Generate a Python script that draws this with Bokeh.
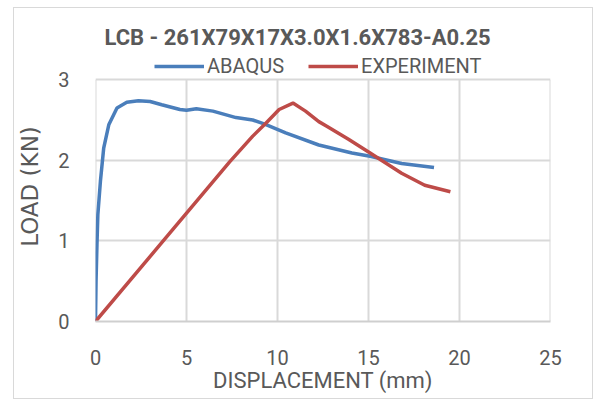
from bokeh.plotting import figure
from bokeh.models import Legend, LegendItem, FixedTicker
from bokeh.embed import file_html
from bokeh.resources import INLINE

# ---- data ----
abaqus_x = [0, 0.03, 0.08, 0.13, 0.27, 0.45, 0.73, 1.18, 1.72, 2.36, 3.0, 3.64,
            4.64, 5.0, 5.54, 6.45, 7.72, 8.64, 9.3, 10.45, 12.27, 14.09, 15.09,
            16.82, 18.6]
abaqus_y = [0, 0.5, 0.95, 1.33, 1.74, 2.15, 2.44, 2.65, 2.72, 2.74, 2.73, 2.69,
            2.63, 2.62, 2.64, 2.61, 2.53, 2.50, 2.45, 2.34, 2.19, 2.09, 2.05,
            1.96, 1.91]
exp_x = [0, 3.72, 7.37, 8.64, 9.36, 10.09, 10.85, 11.54, 12.27, 12.73, 13.9,
         15.09, 16.82, 18.09, 19.5]
exp_y = [0, 1.0, 1.98, 2.30, 2.46, 2.63, 2.71, 2.61, 2.48, 2.42, 2.26, 2.09,
         1.84, 1.69, 1.61]
x_ticks = [0, 5, 10, 15, 20, 25]
y_ticks = [0, 1, 2, 3]

TITLE = "LCB - 261X79X17X3.0X1.6X783-A0.25"
TEXT = "#595959"
GRID = "#d9d9d9"
FONT = "Roboto"

# headroom above the last tick holds the legend (as in the reference)
p = figure(width=580, height=392, x_range=(0, 25), y_range=(0, 3.35),
           output_backend="svg", toolbar_location=None,
           min_border_left=77, min_border_right=44,
           min_border_top=43, min_border_bottom=79)
p.margin = (7, 0, 0, 13)
p.styles = {"border": "1px solid #d9d9d9"}
p.outline_line_color = None
p.background_fill_color = "white"
p.border_fill_color = "white"

p.title.text = TITLE
p.title.align = "left"
p.title.offset = 9
p.title.standoff = 3
p.title.text_font = FONT
p.title.text_font_size = "22px"
p.title.text_font_style = "bold"
p.title.text_color = TEXT

# vertical gridlines only up to the top tick
p.segment(x0=x_ticks, y0=[y_ticks[0]] * len(x_ticks),
          x1=x_ticks, y1=[y_ticks[-1]] * len(x_ticks),
          line_color=GRID, line_width=2)

r1 = p.line(abaqus_x, abaqus_y, line_color="#4A7EBB", line_width=3.5)
r2 = p.line(exp_x, exp_y, line_color="#BE4B48", line_width=3.5)

legend = Legend(items=[LegendItem(label="ABAQUS", renderers=[r1]),
                       LegendItem(label="EXPERIMENT", renderers=[r2])],
                orientation="horizontal", location=(59, 243),
                border_line_color=None, background_fill_alpha=0,
                padding=0, margin=0, spacing=24,
                glyph_width=50, glyph_height=20, label_standoff=3,
                label_text_font=FONT, label_text_font_size="20px",
                label_text_color=TEXT)
p.add_layout(legend, "center")

for ax in (p.xaxis, p.yaxis):
    ax.major_tick_line_color = None
    ax.minor_tick_line_color = None
    ax.major_label_text_color = TEXT
    ax.axis_label_text_color = TEXT
    ax.major_label_text_font = FONT
    ax.major_label_text_font_size = "20px"

p.xaxis.ticker = FixedTicker(ticks=x_ticks)
p.yaxis.ticker = FixedTicker(ticks=y_ticks)
p.xaxis.axis_line_color = "#cfcfcf"
p.xaxis.axis_line_width = 2
p.yaxis.axis_line_color = None
p.xaxis.major_label_standoff = 22
p.yaxis.major_label_standoff = 20

p.xaxis.axis_label = "DISPLACEMENT (mm)"
p.xaxis.axis_label_text_font = FONT
p.xaxis.axis_label_text_font_size = "22px"
p.xaxis.axis_label_text_font_style = "normal"
p.xaxis.axis_label_standoff = 0

p.yaxis.axis_label = "LOAD (KN)"
p.yaxis.axis_label_text_font = "DejaVu Sans"
p.yaxis.axis_label_text_font_size = "23px"
p.yaxis.axis_label_text_font_style = "normal"
p.yaxis.axis_label_standoff = 12

p.xgrid.visible = False
p.ygrid.grid_line_color = GRID
p.ygrid.grid_line_width = 2

open("out.html", "w").write(file_html(p, INLINE))
